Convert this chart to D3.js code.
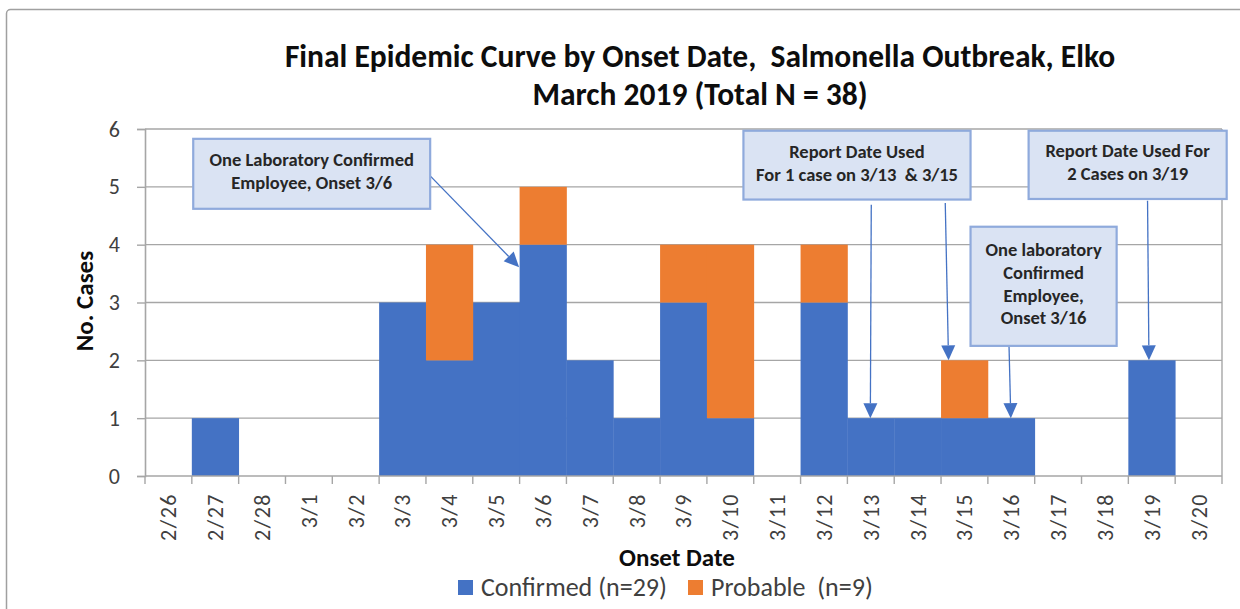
<!DOCTYPE html>
<html>
<head>
<meta charset="utf-8">
<script src="https://cdn.jsdelivr.net/npm/d3@7"></script>
<style>
  html, body { margin: 0; padding: 0; background: #fff; }
  svg { display: block; }
  text { font-family: Carlito, Lato, "Open Sans", sans-serif; white-space: pre; }
</style>
</head>
<body>
<svg id="chart" width="1240" height="609"></svg>
<script>
// ---------- data ----------
const dates = ["2/26","2/27","2/28","3/1","3/2","3/3","3/4","3/5","3/6","3/7","3/8","3/9","3/10","3/11","3/12","3/13","3/14","3/15","3/16","3/17","3/18","3/19","3/20"];
const confirmed = [0,1,0,0,0,3,2,3,4,2,1,3,1,0,3,1,1,1,1,0,0,2,0];
const probable  = [0,0,0,0,0,0,2,0,1,0,0,1,3,0,1,0,0,1,0,0,0,0,0];
const seriesNames = ["Confirmed (n=29)", "Probable  (n=9)"];
const yTicks = [0,1,2,3,4,5,6];
const titleLines = ["Final Epidemic Curve by Onset Date,  Salmonella Outbreak, Elko", "March 2019 (Total N = 38)"];

// annotations in data units (x = category index position, y = case count)
const notes = [
  { lines: ["One Laboratory Confirmed", "Employee, Onset 3/6"], x0: 1.03, x1: 6.09, y0: 5.83, y1: 4.62 },
  { lines: ["Report Date Used", "For 1 case on 3/13  & 3/15"], x0: 12.78, x1: 17.63, y0: 5.97, y1: 4.78 },
  { lines: ["Report Date Used For", "2 Cases on 3/19"], x0: 18.87, x1: 23.10, y0: 5.97, y1: 4.79 },
  { lines: ["One laboratory", "Confirmed", "Employee,", "Onset 3/16"], x0: 17.63, x1: 20.75, y0: 4.31, y1: 2.25 }
];
const arrows = [
  { from: [6.09, 5.19], to: [7.99, 3.61] },
  { from: [15.51, 4.69], to: [15.49, 1.0] },
  { from: [17.09, 4.72], to: [17.16, 2.0] },
  { from: [18.45, 2.30], to: [18.49, 1.0] },
  { from: [21.41, 4.76], to: [21.44, 2.0] }
];

// ---------- layout ----------
const m = { left: 145, right: 1222, top: 129, bottom: 476 };
const BLUE = "#4472C4", ORANGE = "#ED7D31", GRID = "#A6A6A6";

const svg = d3.select("#chart");

// outer chart border
svg.append("rect")
  .attr("x", 6.5).attr("y", 9.5).attr("width", 1300).attr("height", 700)
  .attr("rx", 4)
  .attr("fill", "#fff").attr("stroke", "#A0A0A0").attr("stroke-width", 1.5);

const x = d3.scaleBand().domain(dates).range([m.left, m.right]).paddingInner(0).paddingOuter(0);
const xi = d3.scaleLinear().domain([0, dates.length]).range([m.left, m.right]);
const y = d3.scaleLinear().domain([0, 6]).range([m.bottom, m.top]);

// gridlines
svg.append("g").selectAll("line").data(yTicks.filter(d => d > 0)).join("line")
  .attr("x1", m.left).attr("x2", m.right)
  .attr("y1", d => y(d)).attr("y2", d => y(d))
  .attr("stroke", GRID).attr("stroke-width", 1.4);
svg.append("line").attr("x1", m.right).attr("x2", m.right).attr("y1", y(6)).attr("y2", y(0))
  .attr("stroke", GRID).attr("stroke-width", 1.4);

// stacked bars
const stackData = dates.map((d, i) => ({ date: d, confirmed: confirmed[i], probable: probable[i] }));
const stack = d3.stack().keys(["confirmed", "probable"])(stackData);
const colors = [BLUE, ORANGE];
svg.append("g").selectAll("g").data(stack).join("g")
  .attr("fill", (d, i) => colors[i])
  .selectAll("rect").data(d => d.filter(s => s[1] - s[0] > 0)).join("rect")
  .attr("x", s => x(s.data.date))
  .attr("width", x.bandwidth() + 0.4)
  .attr("y", s => y(s[1]))
  .attr("height", s => y(s[0]) - y(s[1]));

// y axis
const yAxis = d3.axisLeft(y).tickValues(yTicks).tickSize(8).tickPadding(17).tickFormat(d3.format("d"));
const gy = svg.append("g").attr("transform", `translate(${m.left},0)`).call(yAxis);
gy.select(".domain").attr("stroke", GRID).attr("stroke-width", 1.6);
gy.selectAll(".tick line").attr("stroke", GRID).attr("stroke-width", 1.4);
gy.selectAll(".tick text").attr("font-size", 22).attr("fill", "#404040")
  .style("font-family", "Carlito, Lato, sans-serif");

// x axis: ticks at category boundaries
const gx = svg.append("g");
gx.append("line").attr("x1", m.left).attr("x2", m.right).attr("y1", y(0)).attr("y2", y(0))
  .attr("stroke", GRID).attr("stroke-width", 1.6);
gx.selectAll("line.tk").data(d3.range(dates.length + 1)).join("line").attr("class", "tk")
  .attr("x1", i => xi(i)).attr("x2", i => xi(i))
  .attr("y1", y(0)).attr("y2", y(0) + 8)
  .attr("stroke", GRID).attr("stroke-width", 1.4);
gx.selectAll("text").data(dates).join("text")
  .attr("transform", d => `translate(${x(d) + x.bandwidth() / 2},${y(0) + 17}) rotate(-90)`)
  .attr("text-anchor", "end").attr("dy", "0.36em")
  .attr("font-size", 22).attr("fill", "#404040")
  .attr("letter-spacing", 1.5)
  .text(d => d);

// axis titles
svg.append("text")
  .attr("transform", `translate(93,301) rotate(-90)`)
  .attr("text-anchor", "middle").attr("font-size", 25).attr("font-weight", "bold").attr("fill", "#0d0d0d")
  .text("No. Cases");
svg.append("text")
  .attr("x", 677).attr("y", 566)
  .attr("text-anchor", "middle").attr("font-size", 25).attr("font-weight", "bold").attr("fill", "#0d0d0d")
  .text("Onset Date");

// title
svg.append("g").selectAll("text").data(titleLines).join("text")
  .attr("x", 700).attr("y", (d, i) => 67 + i * 37.5)
  .attr("text-anchor", "middle").attr("font-size", 31.5).attr("font-weight", "bold").attr("fill", "#0d0d0d")
  .text(d => d);

// legend
const legendX = [458, 688];
const lg = svg.append("g").selectAll("g").data(seriesNames).join("g")
  .attr("transform", (d, i) => `translate(${legendX[i]},580)`);
lg.append("rect").attr("width", 15).attr("height", 15).attr("fill", (d, i) => colors[i]);
lg.append("text").attr("x", 23).attr("y", 16).attr("font-size", 26).attr("fill", "#404040").text(d => d);

// annotation arrows
const ag = svg.append("g");
arrows.forEach(a => {
  const x1 = xi(a.from[0]), y1 = y(a.from[1]);
  const x2 = xi(a.to[0]), y2 = y(a.to[1]);
  const ang = Math.atan2(y2 - y1, x2 - x1);
  const L = 15, hw = 7;
  const bx = x2 - L * Math.cos(ang), by = y2 - L * Math.sin(ang);
  ag.append("line").attr("x1", x1).attr("y1", y1).attr("x2", bx).attr("y2", by)
    .attr("stroke", BLUE).attr("stroke-width", 1.3);
  const p = [
    [x2, y2],
    [bx + hw * Math.sin(ang), by - hw * Math.cos(ang)],
    [bx - hw * Math.sin(ang), by + hw * Math.cos(ang)]
  ];
  ag.append("polygon").attr("points", p.map(q => q.join(",")).join(" ")).attr("fill", BLUE);
});

// annotation boxes
const ng = svg.append("g").selectAll("g").data(notes).join("g");
ng.append("rect")
  .attr("x", d => xi(d.x0)).attr("y", d => y(d.y0))
  .attr("width", d => xi(d.x1) - xi(d.x0)).attr("height", d => y(d.y1) - y(d.y0))
  .attr("fill", "#DAE3F3").attr("stroke", "#8FAADC").attr("stroke-width", 2.2);
ng.each(function(d) {
  const cx = (xi(d.x0) + xi(d.x1)) / 2;
  const cy = (y(d.y0) + y(d.y1)) / 2 - 2.5;
  const lh = 22.8;
  d3.select(this).selectAll("text").data(d.lines).join("text")
    .attr("x", cx)
    .attr("y", (t, i) => cy + (i - (d.lines.length - 1) / 2) * lh)
    .attr("dy", "0.35em")
    .attr("text-anchor", "middle").attr("font-size", 18.5).attr("font-weight", "bold").attr("fill", "#262626")
    .text(t => t);
});
</script>
</body>
</html>
